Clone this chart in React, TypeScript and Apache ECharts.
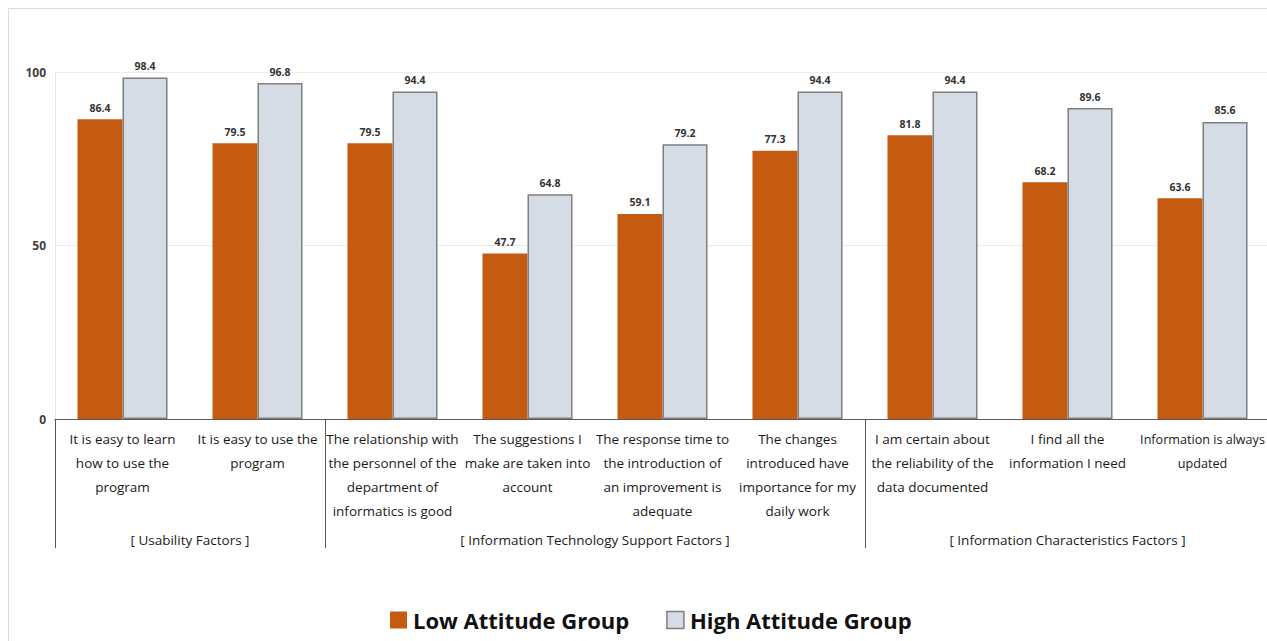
import React, { useEffect, useRef } from "react";
import * as echarts from "echarts";

const categories = [
  "It is easy to learn\nhow to use the\nprogram",
  "It is easy to use the\nprogram",
  "The relationship with\nthe personnel of the\ndepartment of\ninformatics is good",
  "The suggestions I\nmake are taken into\naccount",
  "The response time to\nthe introduction of\nan improvement is\nadequate",
  "The changes\nintroduced have\nimportance for my\ndaily work",
  "I am certain about\nthe reliability of the\ndata documented",
  "I find all the\ninformation I need",
  "Information is always\nupdated",
];
const lowValues = [86.4, 79.5, 79.5, 47.7, 59.1, 77.3, 81.8, 68.2, 63.6];
const highValues = [98.4, 96.8, 94.4, 64.8, 79.2, 94.4, 94.4, 89.6, 85.6];
const groupNames = [
  "[ Usability Factors ]",
  "[ Information Technology Support Factors ]",
  "[ Information Characteristics Factors ]",
];
// group boundaries in category units and group centres
const groupBounds = [0, 2, 6, 9];
const groupCenters = [1, 4, 7.5];
const yTicks = [0, 50, 100];

const FONT = "'Open Sans', 'Noto Sans', sans-serif";

export default function App() {
  const ref = useRef<HTMLDivElement>(null);
  useEffect(() => {
    if (!ref.current) return;
    const chart = echarts.init(ref.current, undefined, { renderer: "svg" });
    const catData = categories.map((c, i) =>
      i === categories.length - 1
        ? { value: c, textStyle: { fontSize: 12.6 } }
        : c
    );
    chart.setOption({
      animation: false,
      backgroundColor: "#ffffff",
      textStyle: { fontFamily: FONT },
      graphic: [
        {
          type: "rect",
          shape: { x: 8.5, y: 8.5, width: 1400, height: 800 },
          style: { fill: "none", stroke: "#dcdcdc", lineWidth: 1 },
          silent: true,
        },
      ],
      legend: {
        bottom: 5,
        left: 385,
        icon: "rect",
        itemWidth: 17,
        itemHeight: 17,
        itemGap: 37,
        textStyle: { fontSize: 22, fontWeight: "bold", color: "#111", fontFamily: FONT, padding: [0, 0, 0, 1] },
        itemStyle: { borderWidth: 0 },
        data: [
          { name: "Low Attitude Group", itemStyle: { color: "#C55A11" } },
          { name: "High Attitude Group", itemStyle: { color: "#D6DCE5", borderColor: "#7F7F7F", borderWidth: 1.5 } },
        ],
      },
      grid: {
        left: 55,
        top: 72,
        width: 1215,
        height: 347,
        containLabel: false,
        outerBoundsMode: "none",
      },
      xAxis: [
        {
          type: "category",
          data: catData,
          axisLine: { show: true, lineStyle: { color: "#595959", width: 1.2 } },
          axisTick: { show: false },
          axisLabel: {
            interval: 0,
            margin: 8,
            fontSize: 13.5,
            lineHeight: 24,
            color: "#1a1a1a",
            fontFamily: FONT,
            verticalAlign: "top",
          },
        },
        {
          type: "value",
          position: "bottom",
          min: 0,
          max: 9,
          axisLine: { show: false },
          splitLine: { show: false },
          axisTick: {
            show: true,
            customValues: groupBounds,
            length: 129,
            lineStyle: { color: "#595959", width: 1 },
          },
          axisLabel: {
            show: true,
            customValues: groupCenters,
            margin: 114,
            fontSize: 13.5,
            color: "#1a1a1a",
            fontFamily: FONT,
            formatter: (v: number) => {
              const i = groupCenters.indexOf(v);
              return i >= 0 ? groupNames[i] : "";
            },
          },
        },
      ],
      yAxis: {
        type: "value",
        min: 0,
        max: 100,
        interval: 50,
        axisLine: { show: true, lineStyle: { color: "#e6e6e6" } },
        axisTick: { show: false },
        splitLine: { lineStyle: { color: "#ececec" } },
        axisLabel: {
          margin: 9,
          fontSize: 12,
          fontWeight: "bold",
          color: "#404040",
          fontFamily: FONT,
          customValues: yTicks,
        },
      },
      series: [
        {
          name: "Low Attitude Group",
          type: "bar",
          data: lowValues,
          barGap: "0%",
          barCategoryGap: "33.3%",
          itemStyle: { color: "#C55A11" },
          label: {
            show: true,
            position: "top",
            distance: 6,
            fontSize: 10.5,
            fontWeight: "bold",
            color: "#333",
            fontFamily: FONT,
          },
        },
        {
          name: "High Attitude Group",
          type: "bar",
          data: highValues,
          barGap: "0%",
          barCategoryGap: "33.3%",
          itemStyle: { color: "#D6DCE5", borderColor: "#7F7F7F", borderWidth: 1.5 },
          label: {
            show: true,
            position: "top",
            distance: 6,
            fontSize: 10.5,
            fontWeight: "bold",
            color: "#333",
            fontFamily: FONT,
          },
        },
      ],
    });
    return () => chart.dispose();
  }, []);
  return (
    <div
      ref={ref}
      style={{ position: "fixed", left: 0, top: 0, width: 1267, height: 641 }}
    />
  );
}
